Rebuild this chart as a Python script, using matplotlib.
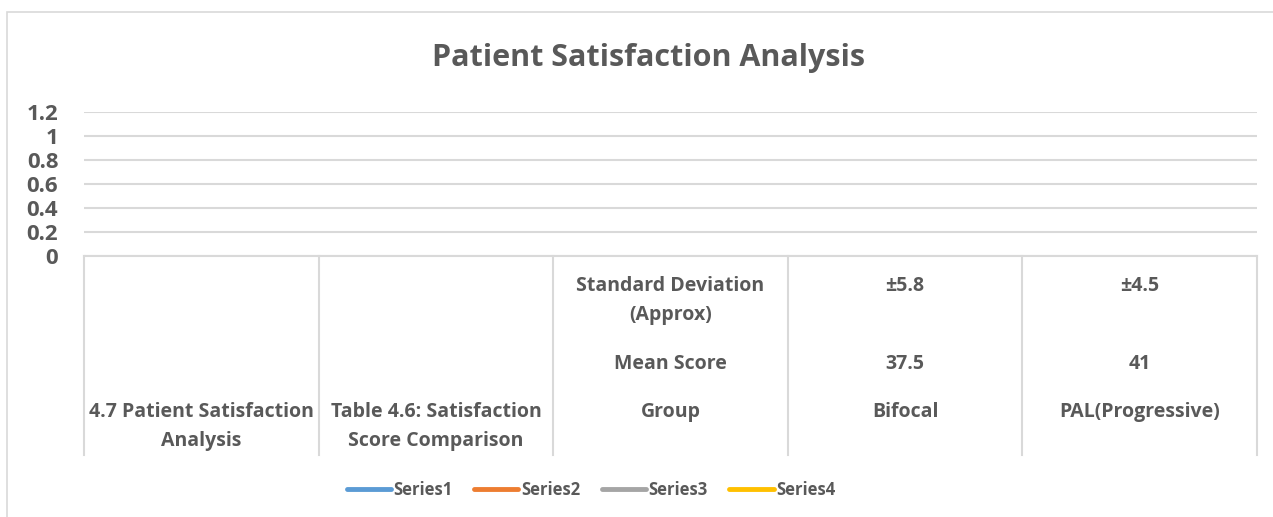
import numpy as np
import matplotlib
matplotlib.use("Agg")
import matplotlib.pyplot as plt
from matplotlib.lines import Line2D
from matplotlib.patches import Rectangle

# ---- data ----
title = "Patient Satisfaction Analysis"
cat_outer = ["4.7 Patient Satisfaction\nAnalysis", "Table 4.6: Satisfaction\nScore Comparison",
             "Group", "Bifocal", "PAL(Progressive)"]
cat_middle = ["", "", "Mean Score", "37.5", "41"]
cat_inner = ["", "", "Standard Deviation\n(Approx)", "±5.8", "±4.5"]
series_names = ["Series1", "Series2", "Series3", "Series4"]
series_colors = ["#5B9BD5", "#ED7D31", "#A5A5A5", "#FFC000"]
series_values = [[np.nan] * 5 for _ in series_names]
yticks = [0, 0.2, 0.4, 0.6, 0.8, 1.0, 1.2]
ytick_labels = ["0", "0.2", "0.4", "0.6", "0.8", "1", "1.2"]

W, H = 1273, 517
TXT = "#595959"
GRID = "#D9D9D9"
FONT = "Open Sans"

plt.rcParams['font.family'] = [FONT, 'DejaVu Sans']
fig = plt.figure(figsize=(W / 100, H / 100), dpi=100)

def fx(px):
    return px / W

def fy(py):
    return 1 - py / H

# outer chart border
fig.patches.append(Rectangle((fx(7), fy(530)), fx(1300), fy(12) - fy(530),
                             transform=fig.transFigure, fill=False,
                             edgecolor=GRID, linewidth=1.2))

x0, x1, ytop, ybot = 84, 1257, 112, 256
ax = fig.add_axes([fx(x0), fy(ybot), fx(x1 - x0), fy(ytop) - fy(ybot)])
n = len(cat_outer)
xs = np.arange(n) + 0.5
for name, col, vals in zip(series_names, series_colors, series_values):
    ax.plot(xs, vals, color=col, lw=3, label=name)
ax.set_xlim(0, n)
ax.set_ylim(0, 1.2)
ax.set_yticks(yticks)
ax.set_yticklabels(ytick_labels, fontsize=16, fontweight='bold', color=TXT)
ax.tick_params(axis='y', length=0, pad=18.5)
ax.set_xticks([])
for s in ax.spines.values():
    s.set_visible(False)
ax.grid(axis='y', color=GRID, lw=1.5)
ax.set_axisbelow(True)

fig.text(fx(648), fy(58), title, ha='center', va='center',
         fontsize=22, fontweight='bold', color=TXT)

# multi-level category axis
axh = ybot - ytop
def ay(py):
    return (ybot - py) / axh

tr = ax.get_xaxis_transform()
ax.plot([0, n], [0, 0], color=GRID, lw=1.5, transform=tr, clip_on=False)
for b in range(n + 1):
    ax.plot([b, b], [0, ay(455)], color=GRID, lw=1.5, transform=tr, clip_on=False)

kw = dict(ha='center', va='top', fontsize=14, fontweight='bold', color=TXT,
          transform=tr, clip_on=False, linespacing=1.62, multialignment='center')
for i in range(n):
    if cat_inner[i]:
        ax.text(xs[i], ay(276), cat_inner[i], **kw)
    if cat_middle[i]:
        ax.text(xs[i], ay(354), cat_middle[i], **kw)
    ax.text(xs[i], ay(402), cat_outer[i], **kw)

handles = [Line2D([], [], color=c, lw=3.5, solid_capstyle='round') for c in series_colors]
fig.legend(handles, series_names, loc='center', bbox_to_anchor=(fx(591), fy(490)),
           ncol=4, frameon=False, handlelength=2.65, handletextpad=0.15,
           columnspacing=1.3, prop=dict(family=FONT, weight='bold', size=12),
           labelcolor=TXT)

fig.savefig("out.png", dpi=100)
